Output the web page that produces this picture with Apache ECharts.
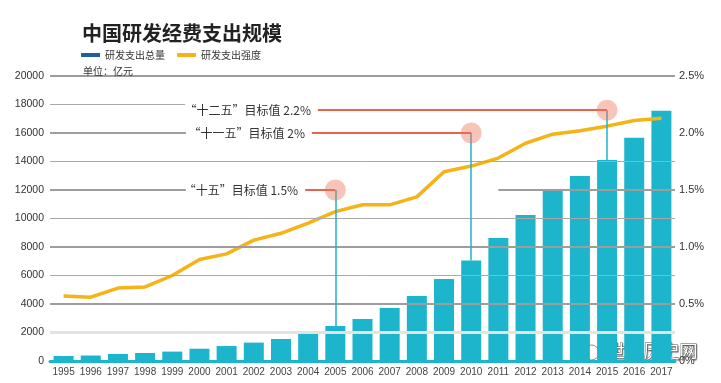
<!DOCTYPE html>
<html><head><meta charset="utf-8">
<script src="https://cdn.jsdelivr.net/npm/echarts@6/dist/echarts.min.js"></script>
<style>html,body{margin:0;padding:0;background:#fff}#c{width:721px;height:383px}</style>
</head><body><div id="c"></div>
<script>
// ---- data ----
const years = ['1995','1996','1997','1998','1999','2000','2001','2002','2003','2004','2005','2006','2007','2008','2009','2010','2011','2012','2013','2014','2015','2016','2017'];
const spending = [351, 385, 495, 560, 660, 860, 1050, 1290, 1545, 1985, 2455, 2950, 3720, 4570, 5760, 7045, 8640, 10250, 11950, 12990, 14110, 15660, 17570];
const intensity = [0.57, 0.56, 0.64, 0.65, 0.75, 0.89, 0.94, 1.06, 1.12, 1.21, 1.31, 1.37, 1.37, 1.44, 1.66, 1.71, 1.78, 1.91, 1.99, 2.02, 2.06, 2.11, 2.13];
const targetYears = ['2005', '2010', '2015'];
const targetValues = [1.5, 2.0, 2.2];
const targetLabels = ['“十五”目标值 1.5%', '“十一五”目标值 2%', '“十二五”目标值 2.2%'];
const leftTicks = [0, 2000, 4000, 6000, 8000, 10000, 12000, 14000, 16000, 18000, 20000];
const rightTicks = ['0%', '0.5%', '1.0%', '1.5%', '2.0%', '2.5%'];
const seriesNames = ['研发支出总量', '研发支出强度'];

const LEFT_MAX = 20000, RIGHT_MAX = 2.5;
const ratio = LEFT_MAX / RIGHT_MAX;
const numFont = '"Liberation Sans",Arial,sans-serif';
const cjk = '"Noto Sans CJK SC","Noto Sans",sans-serif';

function gridSegs(v) {
  if (v === 18000) return [[-0.5, 4.47]];
  if (v === 16000) return [[-0.5, 4.5]];
  if (v === 12000) return [[-0.5, 4.5], [16, 22.5]];
  return [[-0.5, 22.5]];
}
function gridStyle(v) {
  if (v === 2000) return {color: '#e3e3e3', width: 3, type: 'solid'};
  if (v % 4000 === 0) return {color: '#9d9d9d', width: 2, type: 'solid'};
  return {color: '#a9a9a9', width: 1, type: 'solid'};
}
const gridData = [];
leftTicks.forEach(v => {
  if (v === 0) return;
  gridSegs(v).forEach(s => {
    gridData.push([{coord: [s[0], v], lineStyle: gridStyle(v)}, {coord: [s[1], v]}]);
  });
});

const targetStarts = [8.89, 9.14, 9.36];
const targetLineData = targetYears.map((y, i) => [
  {coord: [targetStarts[i], targetValues[i]], label: {formatter: targetLabels[i]}},
  {coord: [years.indexOf(y), targetValues[i]]}
]);
const targetPointData = targetYears.map((y, i) => ({coord: [years.indexOf(y), targetValues[i]]}));
const verticalData = targetYears.map((y, i) => [
  {coord: [y, spending[years.indexOf(y)]]},
  {coord: [y, targetValues[i] * ratio]}
]);

const chart = echarts.init(document.getElementById('c'), null, {renderer: 'canvas'});
chart.setOption({
  animation: false,
  backgroundColor: '#fff',
  title: [
    {text: '中国研发经费支出规模', left: 77, top: 18,
     textStyle: {fontFamily: cjk, fontSize: 20, fontWeight: 'bold', color: '#222'}},
    {text: '单位：亿元', left: 78, top: 61,
     textStyle: {fontFamily: cjk, fontSize: 10, fontWeight: 'normal', color: '#333'}}
  ],
  legend: {
    left: 76, top: 45, itemWidth: 19, itemHeight: 4, itemGap: 12,
    textStyle: {fontFamily: cjk, fontSize: 10, color: '#333'},
    data: [
      {name: seriesNames[0], icon: 'rect', itemStyle: {color: '#1f5f9a'}},
      {name: seriesNames[1], icon: 'roundRect', itemStyle: {color: '#f5b316'}}
    ]
  },
  grid: {left: 50, right: 46, top: 76, bottom: 22},
  xAxis: [
    {type: 'category', data: years,
     axisLine: {show: true, lineStyle: {color: '#1cb5cb', width: 3}},
     axisTick: {show: false},
     axisLabel: {fontFamily: numFont, fontSize: 10, color: '#444', margin: 6, interval: 0}},
    {type: 'value', min: -0.5, max: 22.5, show: false}
  ],
  yAxis: [
    {type: 'value', min: 0, max: LEFT_MAX, interval: 2000,
     axisLine: {show: false}, axisTick: {show: false}, splitLine: {show: false},
     axisLabel: {fontFamily: numFont, fontSize: 10.5, color: '#333', margin: 6,
       formatter: (v) => String(v)}},
    {type: 'value', min: 0, max: RIGHT_MAX, interval: 0.5, position: 'right',
     axisLine: {show: false}, axisTick: {show: false}, splitLine: {show: false},
     axisLabel: {fontFamily: numFont, fontSize: 11, color: '#333', margin: 4,
       formatter: (v) => rightTicks[Math.round(v / 0.5)]}}
  ],
  series: [
    {name: 'grid', type: 'line', xAxisIndex: 1, yAxisIndex: 0, data: [], z: 1, silent: true,
     markLine: {silent: true, symbol: ['none', 'none'], label: {show: false}, animation: false, data: gridData}},
    {name: seriesNames[0], type: 'bar', xAxisIndex: 0, yAxisIndex: 0, data: spending, barWidth: 20, z: 2,
     itemStyle: {color: '#1cb5cb'},
     markLine: {silent: true, symbol: ['none', 'none'], label: {show: false},
       lineStyle: {color: '#1cb5cb', width: 1.5, type: 'solid'}, data: verticalData}},
    {name: seriesNames[1], type: 'line', xAxisIndex: 0, yAxisIndex: 1, data: intensity, z: 4,
     showSymbol: false, symbol: 'none', lineStyle: {color: '#f5b316', width: 3.5}, itemStyle: {color: '#f5b316'}},
    {name: 'targets', type: 'line', xAxisIndex: 1, yAxisIndex: 1, data: [], z: 5, silent: true,
     markLine: {silent: true, symbol: ['none', 'none'],
       lineStyle: {color: '#e8634f', width: 2, type: 'solid'},
       label: {show: true, position: 'start', distance: 7, fontFamily: cjk, fontSize: 12, color: '#333'},
       data: targetLineData},
     markPoint: {silent: true, symbol: 'circle', symbolSize: 21, label: {show: false},
       itemStyle: {color: 'rgba(238,112,88,0.42)'}, data: targetPointData}}
  ],
  graphic: [
    {type: 'group', left: 573, top: 338, z: 100, children: [
      {type: 'circle', shape: {cx: 9, cy: 8, r: 8}, style: {fill: '#f8f8f8', stroke: '#888', lineWidth: 1}},
      {type: 'circle', shape: {cx: 19, cy: 14, r: 7.5}, style: {fill: '#fdfdfd', stroke: '#888', lineWidth: 1}},
      {type: 'text', x: 35, y: 4, style: {text: '世界历史网', fontFamily: cjk, fontSize: 18, fill: '#fff',
        stroke: '#555', lineWidth: 0.8,
        textShadowColor: 'rgba(0,0,0,0.35)', textShadowBlur: 1, textShadowOffsetX: 1, textShadowOffsetY: 1}}
    ]}
  ]
});
</script></body></html>
